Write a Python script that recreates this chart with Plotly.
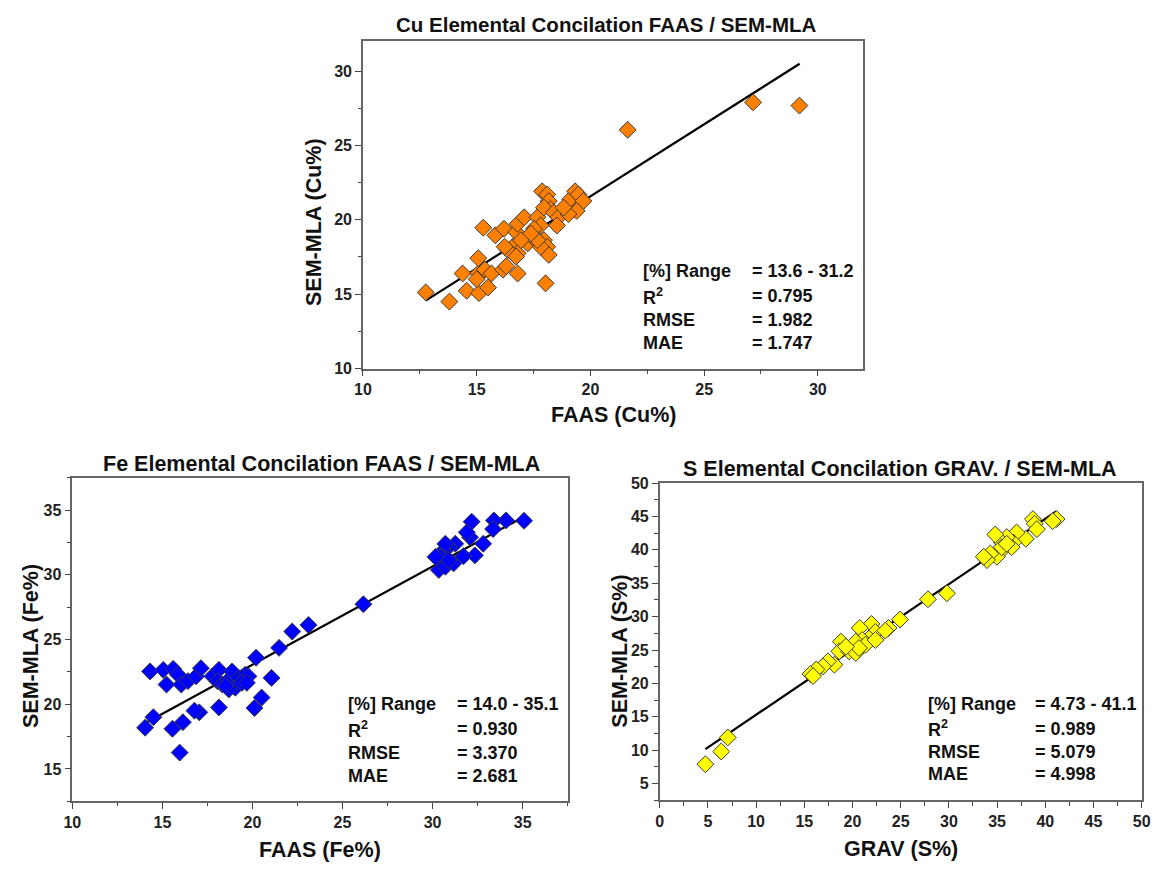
import plotly.graph_objects as go

W, H = 1168, 873

# ---------------- data ----------------
cu_faas = [12.76, 13.80, 27.15, 29.19, 21.64, 18.03, 14.38, 14.56, 15.10, 15.50,
           15.07, 15.07, 15.36, 15.00, 15.65, 16.16, 16.30, 16.80, 15.29, 15.82,
           16.20, 16.73, 16.80, 17.09, 16.59, 16.80, 16.37, 16.73, 17.24, 17.45,
           17.67, 17.81, 17.52, 17.88, 18.10, 18.17, 18.25, 17.96, 18.39, 18.60,
           18.53, 19.11, 19.33, 19.47, 19.69, 19.40, 19.04, 18.82, 17.96, 18.10,
           18.17, 17.81, 17.67, 17.38, 16.95, 16.23]
cu_sem = [15.12, 14.50, 27.90, 27.68, 26.05, 15.73, 16.39, 15.23, 15.07, 15.45,
          16.40, 17.42, 16.65, 16.00, 16.39, 16.65, 16.88, 16.39, 19.47, 18.96,
          19.40, 19.18, 19.73, 20.17, 18.19, 17.75, 17.97, 17.53, 18.41, 18.85,
          20.17, 19.62, 19.40, 21.92, 21.70, 21.26, 20.71, 20.82, 20.49, 20.17,
          19.62, 21.37, 21.92, 21.70, 21.26, 20.60, 20.38, 20.82, 18.63, 18.19,
          17.64, 18.19, 18.63, 19.07, 18.63, 18.19]
cu_fit_x = [12.76, 29.2]
cu_fit_y = [14.57, 30.49]
cu_stats = ["= 13.6 - 31.2", "= 0.795", "= 1.982", "= 1.747"]

fe_faas = [35.08, 34.08, 33.41, 33.36, 32.17, 32.81, 32.35, 31.72, 32.08, 31.90,
           31.26, 30.90, 30.62, 30.44, 30.35, 30.71, 31.17, 30.90, 30.71, 30.16,
           26.16, 23.11, 22.21, 21.48, 20.20, 21.06, 20.51, 20.11, 18.14, 17.05,
           16.78, 16.14, 15.56, 14.50, 14.04, 15.96, 14.32, 15.05, 15.60, 15.87,
           15.23, 16.05, 16.42, 16.87, 17.14, 17.78, 18.14, 18.05, 18.33, 18.69,
           18.87, 19.24, 19.60, 19.78, 19.05, 18.69, 18.51, 19.42, 19.69]
fe_sem = [34.17, 34.20, 34.20, 33.53, 34.10, 32.39, 31.50, 31.43, 32.90, 33.28,
          32.39, 32.14, 31.89, 31.38, 30.37, 30.62, 30.88, 31.13, 32.39, 31.38,
          27.72, 26.12, 25.61, 24.35, 23.59, 22.03, 20.51, 19.70, 19.75, 19.37,
          19.50, 18.61, 18.10, 18.99, 18.18, 16.26, 22.53, 22.65, 22.73, 22.27,
          21.52, 21.52, 21.78, 22.15, 22.78, 22.15, 22.65, 21.78, 21.52, 21.90,
          22.53, 22.03, 22.27, 22.15, 21.27, 21.14, 21.40, 21.65, 21.65]
fe_fit_x = [14.14, 34.99]
fe_fit_y = [18.61, 34.42]
fe_stats = ["= 14.0 - 35.1", "= 0.930", "= 3.370", "= 2.681"]

s_grav = [4.74, 6.38, 7.06, 41.17, 40.77, 38.72, 38.90, 39.13, 37.98, 37.02,
          36.68, 36.51, 36.00, 35.49, 34.81, 35.32, 34.98, 34.30, 33.95, 33.62,
          35.49, 36.00, 27.83, 29.80, 24.93, 23.74, 21.97, 20.75, 22.38, 21.70,
          21.02, 20.34, 18.80, 18.63, 19.65, 20.34, 21.36, 22.38, 20.67, 19.32,
          18.12, 17.45, 16.94, 16.25, 15.64, 15.91, 23.40]
s_sem = [7.90, 9.80, 11.90, 44.60, 44.30, 44.60, 43.90, 43.10, 41.66, 42.60,
         41.10, 40.40, 41.90, 41.10, 42.30, 39.70, 38.97, 39.45, 38.47, 38.97,
         40.40, 40.90, 32.60, 33.50, 29.56, 28.30, 28.90, 28.30, 27.70, 26.70,
         26.50, 26.25, 26.25, 24.80, 24.80, 24.55, 25.80, 26.50, 25.30, 25.50,
         22.80, 23.30, 22.55, 22.10, 21.40, 21.10, 27.90]
s_fit_x = [4.74, 41.17]
s_fit_y = [10.15, 45.8]
s_stats = ["= 4.73 - 41.1", "= 0.989", "= 5.079", "= 4.998"]

stat_labels = ["[%] Range", "R<sup>2</sup>", "RMSE", "MAE"]

# ---------------- layout helpers ----------------
def px(x):
    return x / W

def py(y):
    return 1 - y / H

FONT = "Arial, Liberation Sans, sans-serif"
EDGE = "#3a3a3a"

fig = go.Figure()

panels = [
    dict(ax="", x=cu_faas, y=cu_sem, fx=cu_fit_x, fy=cu_fit_y, color="#FF8000",
         dom_x=(359.5, 867.7), dom_y=(34, 367.7), xr=[10, 32], yr=[10, 32],
         xt=5, yt=5, xminor=2.5, yminor=2.5,
         title="Cu Elemental Concilation FAAS / SEM-MLA", tpos=(606, 17), tsize=20.5,
         xtitle="FAAS (Cu%)", xtpos=(613.5, 415),
         ytitle="SEM-MLA (Cu%)", ytpos=(310, 218),
         stats=cu_stats, lx=641.7, vx=752.7, rows=[268, 294, 318, 342]),
    dict(ax="2", x=fe_faas, y=fe_sem, fx=fe_fit_x, fy=fe_fit_y, color="#0000FF",
         dom_x=(64.3, 567.4), dom_y=(479, 809), xr=[10, 37.5], yr=[12.5, 37.5],
         xt=5, yt=5, xminor=2.5, yminor=2.5,
         title="Fe Elemental Concilation FAAS / SEM-MLA", tpos=(317, 465), tsize=21.5,
         xtitle="FAAS (Fe%)", xtpos=(316, 859),
         ytitle="SEM-MLA (Fe%)", ytpos=(23, 651),
         stats=fe_stats, lx=342.7, vx=453.3, rows=[710, 735.7, 759.3, 783.3]),
    dict(ax="3", x=s_grav, y=s_sem, fx=s_fit_x, fy=s_fit_y, color="#FFFF00",
         dom_x=(660.9, 1150.4), dom_y=(484.5, 808), xr=[0, 50], yr=[2.5, 50],
         xt=5, yt=5, xminor=2.5, yminor=2.5,
         title="S Elemental Concilation GRAV. / SEM-MLA", tpos=(905, 470.5), tsize=21.5,
         xtitle="GRAV (S%)", xtpos=(906, 858),
         ytitle="SEM-MLA (S%)", ytpos=(621, 656),
         stats=s_stats, lx=931.7, vx=1040, rows=[710, 735, 758.3, 781.7]),
]

annotations = []
for p in panels:
    xa = "x" + p["ax"]
    ya = "y" + p["ax"]
    fig.add_trace(go.Scatter(
        x=p["fx"], y=p["fy"], mode="lines", xaxis=xa, yaxis=ya,
        line=dict(color="black", width=2.2), showlegend=False, hoverinfo="skip"))
    fig.add_trace(go.Scatter(
        x=p["x"], y=p["y"], mode="markers", xaxis=xa, yaxis=ya,
        marker=dict(symbol="diamond", size=13, color=p["color"],
                    line=dict(color=EDGE, width=1)),
        showlegend=False))

    axis_common = dict(
        showline=True, mirror=True, linecolor="#666666", linewidth=1.5,
        showgrid=False, zeroline=False, ticks="outside", ticklen=6,
        tickwidth=1.2, tickcolor="#444444",
        tickfont=dict(family=FONT, size=16, color="#222222", weight="bold"),
    )
    xkey = "xaxis" + p["ax"]
    ykey = "yaxis" + p["ax"]
    fig.update_layout(**{
        xkey: dict(axis_common, domain=[px(p["dom_x"][0]), px(p["dom_x"][1])],
                   range=p["xr"], dtick=p["xt"], tick0=0, anchor=ya,
                   minor=dict(ticks="outside", ticklen=3.5, dtick=p["xminor"],
                              tick0=0, tickcolor="#444444", showgrid=False)),
        ykey: dict(axis_common, domain=[py(p["dom_y"][1]), py(p["dom_y"][0])],
                   range=p["yr"], dtick=p["yt"], tick0=0, anchor=xa,
                   minor=dict(ticks="outside", ticklen=3.5, dtick=p["yminor"],
                              tick0=0, tickcolor="#444444", showgrid=False)),
    })

    annotations.append(dict(text="<b>" + p["title"] + "</b>", x=px(p["tpos"][0]),
                            y=py(p["tpos"][1]), xref="paper", yref="paper",
                            showarrow=False, xanchor="center", yanchor="middle",
                            font=dict(family=FONT, size=p["tsize"], color="#111111")))
    annotations.append(dict(text="<b>" + p["xtitle"] + "</b>", x=px(p["xtpos"][0]),
                            y=py(p["xtpos"][1]), xref="paper", yref="paper",
                            showarrow=False, xanchor="center", yanchor="middle",
                            font=dict(family=FONT, size=21.5, color="#111111")))
    annotations.append(dict(text="<b>" + p["ytitle"] + "</b>", x=px(p["ytpos"][0]),
                            y=py(p["ytpos"][1]), xref="paper", yref="paper",
                            showarrow=False, xanchor="center", yanchor="middle",
                            textangle=-90,
                            font=dict(family=FONT, size=21.5, color="#111111")))
    for lab, val, ry in zip(stat_labels, p["stats"], p["rows"]):
        annotations.append(dict(text="<b>" + lab + "</b>", x=px(p["lx"]), y=py(ry),
                                xref="paper", yref="paper", showarrow=False,
                                xanchor="left", yanchor="middle",
                                font=dict(family=FONT, size=18, color="#111111")))
        annotations.append(dict(text="<b>" + val + "</b>", x=px(p["vx"]), y=py(ry),
                                xref="paper", yref="paper", showarrow=False,
                                xanchor="left", yanchor="middle",
                                font=dict(family=FONT, size=18, color="#111111")))

fig.update_layout(
    width=W, height=H, margin=dict(l=0, r=0, t=0, b=0),
    paper_bgcolor="white", plot_bgcolor="white",
    annotations=annotations, showlegend=False,
)

# remove the default page margin so the figure sits exactly at the window origin
fig.write_html("out.html",
               config={"displayModeBar": False},
               post_script="document.body.style.margin='0';"
                           "document.body.style.overflow='hidden';")
